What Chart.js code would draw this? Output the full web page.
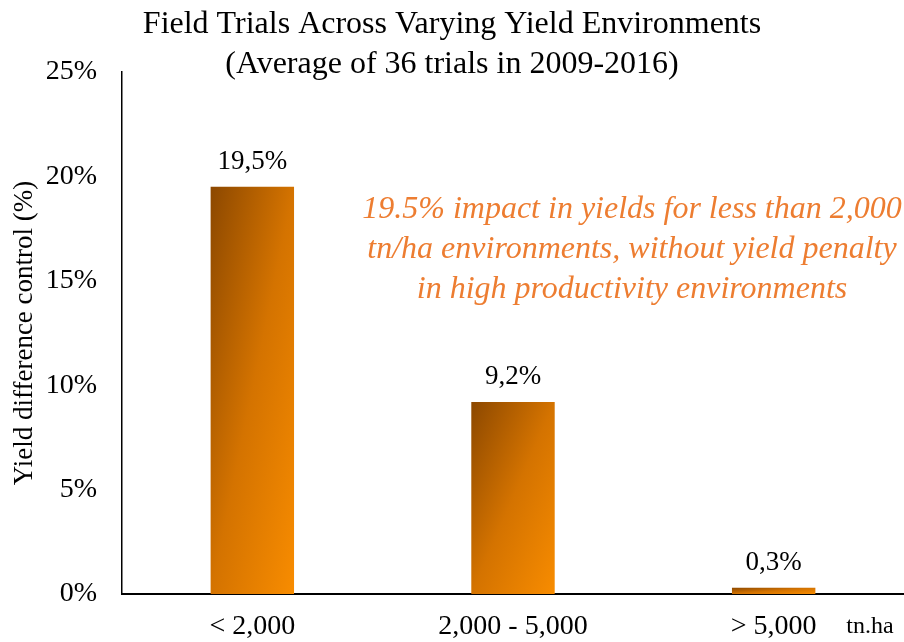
<!DOCTYPE html>
<html>
<head>
<meta charset="utf-8">
<script src="https://cdn.jsdelivr.net/npm/chart.js@4/dist/chart.umd.min.js"></script>
<style>
  html, body { margin: 0; padding: 0; background: #fff; }
  #wrap { width: 904px; height: 642px; position: relative; }
</style>
</head>
<body>
<div id="wrap"><canvas id="chart"></canvas></div>
<script>
// data
const categories = ['< 2,000', '2,000 - 5,000', '> 5,000'];
const yieldDiff = [19.5, 9.2, 0.3];
const yTicks = [0, 5, 10, 15, 20, 25];
const titleLines = ['Field Trials Across Varying Yield Environments', '(Average of 36 trials in 2009-2016)'];
const noteLines = [
  '19.5% impact in yields for less than 2,000',
  'tn/ha environments, without yield penalty',
  'in high productivity environments'
];
const unitLabel = 'tn.ha';

const SERIF = "'Liberation Serif', 'Times New Roman', serif";

// diagonal gradient per bar, isolines parallel to the bar's anti-diagonal
function barGradient(ctx) {
  const chart = ctx.chart;
  if (!chart.chartArea || ctx.type !== 'data') return '#d47300';
  const xs = chart.scales.x, ys = chart.scales.y;
  const cw = xs.width / categories.length;
  const w = cw * 0.32;
  const xc = xs.getPixelForValue(ctx.dataIndex);
  const x0 = xc - w / 2;
  const y0 = ys.getPixelForValue(ctx.raw);
  const h = Math.max(ys.getPixelForValue(0) - y0, 1);
  const t = 2 * w * h / (h * h + w * w);
  const g = chart.ctx.createLinearGradient(x0, y0, x0 + t * h, y0 + t * w);
  g.addColorStop(0, '#8c4800');
  g.addColorStop(0.5, '#d47300');
  g.addColorStop(1, '#f88c00');
  return g;
}

const extras = {
  id: 'extras',
  afterDatasetsDraw(chart) {
    const { ctx } = chart;
    const meta = chart.getDatasetMeta(0);
    ctx.save();
    ctx.fillStyle = '#000';
    ctx.font = '27px ' + SERIF;
    ctx.textAlign = 'center';
    ctx.textBaseline = 'middle';
    meta.data.forEach((bar, i) => {
      ctx.fillText(yieldDiff[i].toFixed(1).replace('.', ',') + '%', bar.x, bar.y - 25);
    });

    // unit label at the end of the x axis
    ctx.font = '24px ' + SERIF;
    ctx.fillText(unitLabel, 870, 627);

    // annotation
    ctx.fillStyle = '#ed7d31';
    ctx.font = 'italic 32px ' + SERIF;
    noteLines.forEach((line, i) => {
      ctx.fillText(line, 632, 210 + i * 40);
    });
    ctx.restore();
  }
};

new Chart(document.getElementById('chart'), {
  type: 'bar',
  data: {
    labels: categories,
    datasets: [{
      data: yieldDiff,
      backgroundColor: barGradient,
      borderWidth: 0,
      barPercentage: 0.32,
      categoryPercentage: 1
    }]
  },
  options: {
    responsive: true,
    maintainAspectRatio: false,
    animation: false,
    layout: { padding: { left: 0, right: 0, top: 0, bottom: 0 } },
    plugins: {
      legend: { display: false },
      tooltip: { enabled: false },
      title: {
        display: true,
        text: titleLines,
        color: '#000',
        font: { family: SERIF, size: 32, weight: 'normal', lineHeight: '40px' },
        padding: { top: 5, bottom: -13 }
      }
    },
    scales: {
      x: {
        grid: { display: false, drawTicks: false },
        border: { display: true, color: '#000', width: 2 },
        ticks: {
          color: '#000',
          font: { family: SERIF, size: 28 },
          padding: 16,
          maxRotation: 0
        },
        afterFit(scale) { scale.height = 48; }
      },
      y: {
        min: 0,
        max: 25,
        afterBuildTicks(scale) { scale.ticks = yTicks.map(v => ({ value: v })); },
        grid: { display: false, drawTicks: false },
        border: { display: true, color: '#000', width: 1.5 },
        ticks: {
          color: '#000',
          font: { family: SERIF, size: 28 },
          padding: 25,
          callback: v => v + '%'
        },
        title: {
          display: true,
          text: 'Yield difference control (%)',
          color: '#000',
          font: { family: SERIF, size: 27 },
          padding: { top: 9, bottom: 0 }
        },
        afterFit(scale) { scale.width = 122; }
      }
    }
  },
  plugins: [extras]
});
</script>
</body>
</html>
